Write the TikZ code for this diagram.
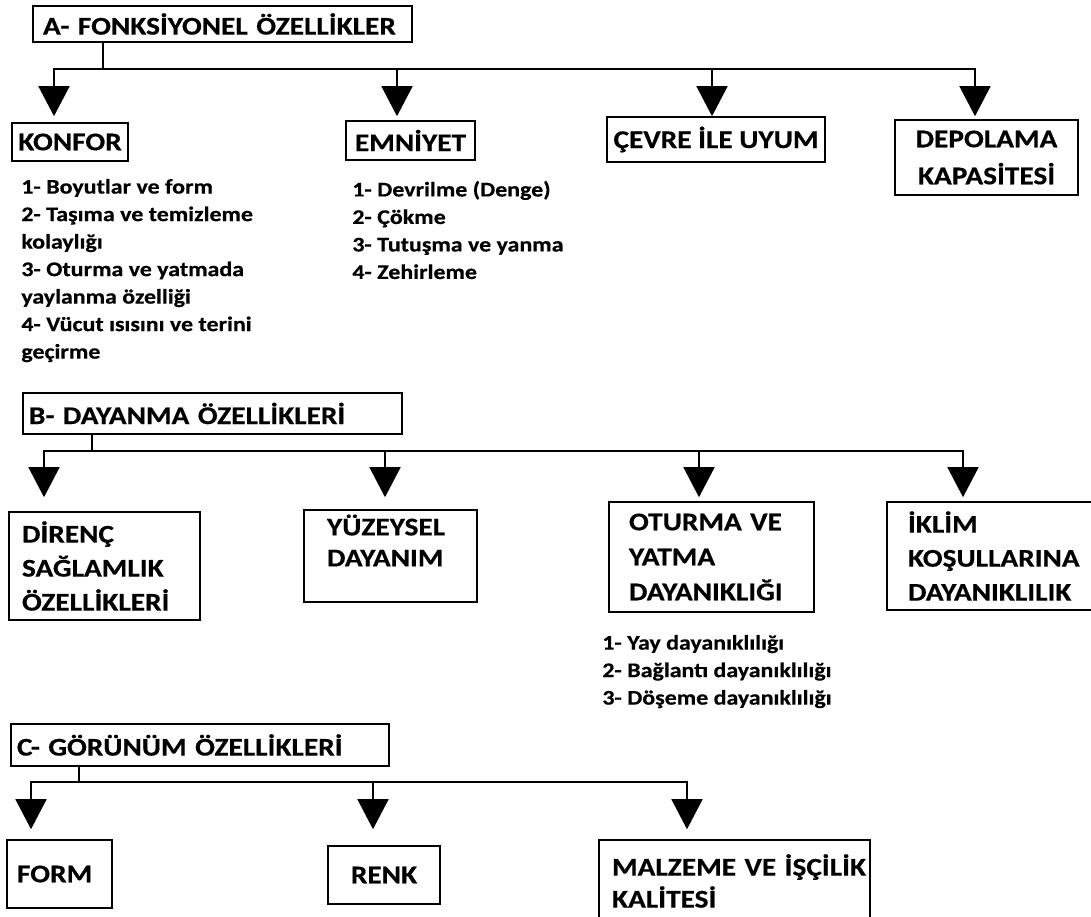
\documentclass[tikz,border=0pt]{standalone}
\usepackage{fontspec}
\setmainfont{Carlito}[FakeStretch=1.15, BoldFeatures={FakeBold=0.5}]
\usetikzlibrary{positioning}
\usetikzlibrary{arrows.meta}
\hyphenpenalty=10000
\exhyphenpenalty=10000
\tikzset{
	catbox/.style={rectangle, draw=black, line width=1.6pt, inner ysep=0pt, font=\fontsize{25.5}{31}\selectfont\bfseries},
	itemlist/.style={align=left, inner sep=0pt, font=\fontsize{20.8}{27.5}\selectfont\bfseries},
	branch/.style={line width=1.6pt, line cap=rect},
	branchArrow/.style={line width=1.6pt, -{Triangle[width=31pt,length=30pt]}}
}
\begin{document}
\begin{tikzpicture}[x=1pt, y=-1pt]
		\useasboundingbox (0,0) rectangle (1091,917);
		% A group
		\node[catbox, align=left, text width=359pt, inner xsep=10pt, minimum height=36pt](fonk) at (222.5,24){A-~FONKSİYONEL~ÖZELLİKLER};
		\node[catbox, align=center, inner xsep=0pt, minimum width=116pt, minimum height=38pt](konfor) at (70,142){KONFOR};
		\node[catbox, align=center, inner xsep=0pt, minimum width=129pt, minimum height=39pt](emniyet) at (410.5,140.5){EMNİYET};
		\node[catbox, align=center, inner xsep=0pt, minimum width=218pt, minimum height=45pt](cevre) at (716,139.5){ÇEVRE İLE UYUM};
		\node[catbox, align=center, text width=183pt, inner xsep=0pt, minimum height=75pt, font=\fontsize{25.5}{37}\selectfont\bfseries](depolama) at (986.5,157.5){DEPOLAMA\\KAPASİTESİ};
		\node[itemlist, below right=17pt and 10pt of konfor.south west](konforList){1- Boyutlar ve form\\2- Taşıma ve temizleme\\kolaylığı\\3- Oturma ve yatmada\\yaylanma özelliği\\4- Vücut ısısını ve terini\\geçirme};
		\node[itemlist, below right=20pt and 7pt of emniyet.south west](emniyetList){1- Devrilme (Denge)\\2- Çökme\\3- Tutuşma ve yanma\\4- Zehirleme};
		\coordinate(fonkJ) at (103,69);
		\coordinate(konforJ) at (54,69);
		\coordinate(emniyetJ) at (397,69);
		\coordinate(cevreJ) at (712,69);
		\coordinate(depolamaJ) at (975,69);
		\draw[branch] (fonk.south -| fonkJ) -- (fonkJ);
		\draw[branch] (konforJ) -- (depolamaJ);
		\draw[branchArrow, shorten >=6pt] (konforJ) -- (konforJ |- konfor.north);
		\draw[branchArrow, shorten >=4pt] (emniyetJ) -- (emniyetJ |- emniyet.north);
		\draw[branchArrow] (cevreJ) -- (cevreJ |- cevre.north);
		\draw[branchArrow, shorten >=3pt] (depolamaJ) -- (depolamaJ |- depolama.north);
		% B group
		\node[catbox, align=left, text width=367pt, inner xsep=6pt, minimum height=41pt](dayanma) at (212.5,413.5){B-~DAYANMA~ÖZELLİKLERİ};
		\node[catbox, align=left, text width=165pt, inner xsep=13pt, minimum height=108pt, font=\fontsize{25.5}{34}\selectfont\bfseries](direnc) at (104.5,566){DİRENÇ\\SAĞLAMLIK\\ÖZELLİKLERİ};
		\node[catbox, align=left, text width=127pt, inner xsep=23pt, minimum height=92pt](yuzey) at (390.5,556){YÜZEYSEL\\DAYANIM\\\mbox{}};
		\node[catbox, align=left, text width=165pt, inner xsep=20pt, minimum height=110pt, font=\fontsize{25.5}{35}\selectfont\bfseries](oturma) at (711.5,557){OTURMA~VE\\YATMA\\DAYANIKLIĞI};
		\node[catbox, align=left, text width=224pt, inner xsep=21pt, minimum height=108pt, font=\fontsize{25.5}{34}\selectfont\bfseries](iklim) at (1020,556){İKLİM\\KOŞULLARINA\\DAYANIKLILIK};
		\node[itemlist, below right=22pt and -6pt of oturma.south west](oturmaList){1- Yay dayanıklılığı\\2- Bağlantı dayanıklılığı\\3- Döşeme dayanıklılığı};
		\coordinate(dayanmaJ) at (92,451);
		\coordinate(direncJ) at (44,451);
		\coordinate(yuzeyJ) at (385,451);
		\coordinate(oturmaJ) at (699,451);
		\coordinate(iklimJ) at (963,451);
		\draw[branch] (dayanma.south -| dayanmaJ) -- (dayanmaJ);
		\draw[branch] (direncJ) -- (iklimJ);
		\draw[branchArrow, shorten >=14pt] (direncJ) -- (direncJ |- direnc.north);
		\draw[branchArrow, shorten >=12pt] (yuzeyJ) -- (yuzeyJ |- yuzey.north);
		\draw[branchArrow, shorten >=4pt] (oturmaJ) -- (oturmaJ |- oturma.north);
		\draw[branchArrow, shorten >=4pt] (iklimJ) -- (iklimJ |- iklim.north);
		% C group
		\node[catbox, align=left, text width=366pt, inner xsep=6pt, minimum height=42pt](gorunum) at (200,745){C-~GÖRÜNÜM~ÖZELLİKLERİ};
		\node[catbox, align=left, text width=85pt, inner xsep=10pt, minimum height=68pt](form) at (59.5,874){FORM};
		\node[catbox, align=center, inner xsep=0pt, minimum width=112pt, minimum height=58pt](renk) at (384,875){RENK};
		\node[catbox, align=left, text width=245pt, inner xsep=13pt, minimum height=82pt, font=\fontsize{25.5}{32}\selectfont\bfseries](malzeme) at (734.5,881){MALZEME~VE~İŞÇİLİK\\KALİTESİ};
		\coordinate(gorunumJ) at (79,782);
		\coordinate(formJ) at (31,782);
		\coordinate(renkJ) at (373,782);
		\coordinate(malzemeJ) at (687,782);
		\draw[branch] (gorunum.south -| gorunumJ) -- (gorunumJ);
		\draw[branch] (formJ) -- (malzemeJ);
		\draw[branchArrow, shorten >=10pt] (formJ) -- (formJ |- form.north);
		\draw[branchArrow, shorten >=16pt] (renkJ) -- (renkJ |- renk.north);
		\draw[branchArrow, shorten >=10pt] (malzemeJ) -- (malzemeJ |- malzeme.north);
	\end{tikzpicture}
\end{document}
